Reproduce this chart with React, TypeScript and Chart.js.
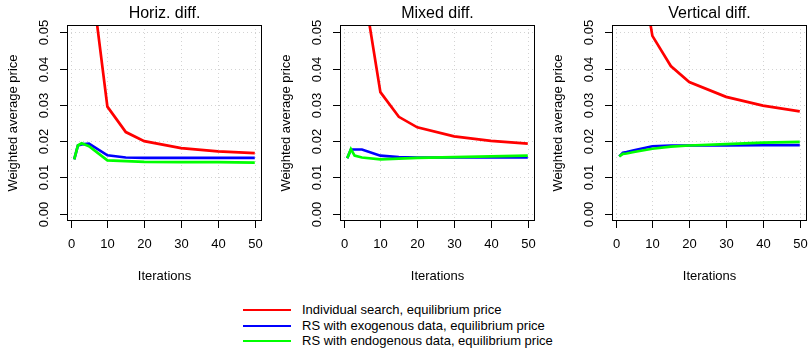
import React, { useEffect, useRef } from 'react';
import { Chart, registerables } from 'chart.js';

Chart.register(...registerables);

// ---------- data ----------
const iterations = [1, 2, 3, 5, 10, 15, 20, 30, 40, 50];

const horizIndividual = [0.25, 0.17, 0.12, 0.07, 0.0295, 0.0225, 0.02, 0.0181, 0.0172, 0.0167];
const horizExogenous = [0.015, 0.0188, 0.0191, 0.0193, 0.0161, 0.0155, 0.0154, 0.0154, 0.0154, 0.0154];
const horizEndogenous = [0.015, 0.0188, 0.0194, 0.0186, 0.0147, 0.0145, 0.0143, 0.0142, 0.0142, 0.0141];

const mixedIndividual = [0.22, 0.15, 0.11, 0.065, 0.0335, 0.0267, 0.0238, 0.0213, 0.0201, 0.0193];
const mixedExogenous = [0.0153, 0.0177, 0.0177, 0.0177, 0.016, 0.0156, 0.0155, 0.0155, 0.0155, 0.0155];
const mixedEndogenous = [0.0153, 0.0178, 0.016, 0.0155, 0.015, 0.0152, 0.0154, 0.0156, 0.0158, 0.016];

const vertIndividual = [0.3, 0.2, 0.15, 0.079, 0.049, 0.0407, 0.0363, 0.0322, 0.0298, 0.0282];
const vertExogenous = [0.0158, 0.0168, 0.017, 0.0175, 0.0186, 0.0188, 0.0188, 0.0188, 0.0189, 0.0189];
const vertEndogenous = [0.0158, 0.0165, 0.0166, 0.017, 0.0179, 0.0185, 0.0188, 0.0192, 0.0196, 0.0198];

const xTicks = [0, 10, 20, 30, 40, 50];
const yTicks = [0, 0.01, 0.02, 0.03, 0.04, 0.05];
const yTickLabels = ['0.00', '0.01', '0.02', '0.03', '0.04', '0.05'];

const panelTitles = ['Horiz. diff.', 'Mixed diff.', 'Vertical diff.'];
const xAxisTitle = 'Iterations';
const yAxisTitle = 'Weighted average price';

const seriesLabels = [
  'Individual search, equilibrium price',
  'RS with exogenous data, equilibrium price',
  'RS with endogenous data, equilibrium price',
];
const seriesColors = ['#FF0000', '#0000FF', '#00FF00'];

const FONT = '"Liberation Sans", Arial, Helvetica, sans-serif';

// ---------- R-style axes plugin ----------
const rPlugin = {
  id: 'rstyle',
  beforeDatasetsDraw(chart: any) {
    const { ctx, chartArea: a, scales } = chart;
    const xs = scales.x;
    const ys = scales.y;
    ctx.save();
    ctx.strokeStyle = '#d3d3d3';
    ctx.lineWidth = 1;
    ctx.setLineDash([1, 3]);
    xTicks.forEach((v) => {
      const px = Math.round(xs.getPixelForValue(v)) + 0.5;
      ctx.beginPath();
      ctx.moveTo(px, a.top);
      ctx.lineTo(px, a.bottom);
      ctx.stroke();
    });
    yTicks.forEach((v) => {
      const py = Math.round(ys.getPixelForValue(v)) + 0.5;
      ctx.beginPath();
      ctx.moveTo(a.left, py);
      ctx.lineTo(a.right, py);
      ctx.stroke();
    });
    ctx.restore();
  },
  afterDatasetsDraw(chart: any, _args: any, opts: any) {
    const { ctx, chartArea: a, scales } = chart;
    const xs = scales.x;
    const ys = scales.y;
    ctx.save();
    ctx.setLineDash([]);
    ctx.strokeStyle = '#000000';
    ctx.lineWidth = 1;
    ctx.strokeRect(a.left + 0.5, a.top + 0.5, a.right - a.left - 1, a.bottom - a.top - 1);

    ctx.fillStyle = '#000000';
    ctx.font = `13px ${FONT}`;
    ctx.textAlign = 'center';
    ctx.textBaseline = 'middle';

    // x axis ticks
    xTicks.forEach((v) => {
      const px = Math.round(xs.getPixelForValue(v)) + 0.5;
      ctx.beginPath();
      ctx.moveTo(px, a.bottom - 0.5);
      ctx.lineTo(px, a.bottom + 7);
      ctx.stroke();
      ctx.fillText(String(v), px, 244.5);
    });

    // y axis ticks
    yTicks.forEach((v, i) => {
      const py = Math.round(ys.getPixelForValue(v)) + 0.5;
      ctx.beginPath();
      ctx.moveTo(a.left + 0.5, py);
      ctx.lineTo(a.left - 7, py);
      ctx.stroke();
      ctx.save();
      ctx.translate(a.left - 23, py);
      ctx.rotate(-Math.PI / 2);
      ctx.fillText(yTickLabels[i], 0, 0);
      ctx.restore();
    });

    const cx = (a.left + a.right) / 2;
    const cy = (a.top + a.bottom) / 2;

    ctx.fillText(xAxisTitle, cx, 276);

    ctx.save();
    ctx.translate(a.left - 54, cy);
    ctx.rotate(-Math.PI / 2);
    ctx.fillText(yAxisTitle, 0, 0);
    ctx.restore();

    ctx.font = `16px ${FONT}`;
    ctx.fillText(opts.title || '', cx, 14);
    ctx.restore();
  },
};

type PanelProps = {
  title: string;
  red: number[];
  blue: number[];
  green: number[];
  left: number;
};

const CANVAS_W = 272;
const CANVAS_H = 290;
const LINE_W = 2.7;

function Panel({ title, red, blue, green, left }: PanelProps) {
  const ref = useRef<HTMLCanvasElement>(null);
  useEffect(() => {
    if (!ref.current) return;
    const mk = (vals: number[]) => iterations.map((x, i) => ({ x, y: vals[i] }));
    const chart = new Chart(ref.current, {
      type: 'line',
      data: {
        datasets: [
          {
            label: seriesLabels[0],
            data: mk(red),
            borderColor: seriesColors[0],
            borderWidth: LINE_W,
            pointRadius: 0,
            tension: 0,
            clip: 0,
            order: 2,
          },
          {
            label: seriesLabels[1],
            data: mk(blue),
            borderColor: seriesColors[1],
            borderWidth: LINE_W,
            pointRadius: 0,
            tension: 0,
            clip: 0,
            order: 1,
          },
          {
            label: seriesLabels[2],
            data: mk(green),
            borderColor: seriesColors[2],
            borderWidth: LINE_W,
            pointRadius: 0,
            tension: 0,
            clip: 0,
            order: 0,
          },
        ],
      } as any,
      options: {
        animation: false,
        responsive: false,
        events: [],
        layout: {
          padding: { left: 67, right: CANVAS_W - 67 - 195, top: 25, bottom: CANVAS_H - 221 },
        },
        scales: {
          x: { type: 'linear', min: -0.96, max: 51.96, display: false },
          y: { type: 'linear', min: -0.002, max: 0.052, display: false },
        },
        plugins: {
          legend: { display: false },
          tooltip: { enabled: false },
          title: { display: false },
          rstyle: { title },
        } as any,
      },
      plugins: [rPlugin as any],
    });
    return () => chart.destroy();
  }, [title, red, blue, green]);
  return (
    <canvas
      ref={ref}
      width={CANVAS_W}
      height={CANVAS_H}
      style={{ position: 'absolute', left, top: 0, width: CANVAS_W, height: CANVAS_H }}
    />
  );
}

const legendRows = [310, 325.5, 341];

export default function App() {
  useEffect(() => {
    document.body.style.margin = '0';
  }, []);
  return (
    <div
      style={{
        position: 'absolute',
        left: 0,
        top: 0,
        width: 808,
        height: 348,
        background: '#ffffff',
        overflow: 'hidden',
        fontFamily: FONT,
      }}
    >
      <Panel title={panelTitles[0]} red={horizIndividual} blue={horizExogenous} green={horizEndogenous} left={0} />
      <Panel title={panelTitles[1]} red={mixedIndividual} blue={mixedExogenous} green={mixedEndogenous} left={273} />
      <Panel title={panelTitles[2]} red={vertIndividual} blue={vertExogenous} green={vertEndogenous} left={545} />
      {seriesLabels.map((lab, i) => (
        <React.Fragment key={lab}>
          <div
            style={{
              position: 'absolute',
              left: 243,
              top: legendRows[i] - 1,
              width: 48,
              height: 2,
              background: seriesColors[i],
            }}
          />
          <div
            style={{
              position: 'absolute',
              left: 302,
              top: legendRows[i] - 8,
              height: 16,
              lineHeight: '16px',
              fontSize: 13,
              color: '#000',
              whiteSpace: 'nowrap',
            }}
          >
            {lab}
          </div>
        </React.Fragment>
      ))}
    </div>
  );
}
